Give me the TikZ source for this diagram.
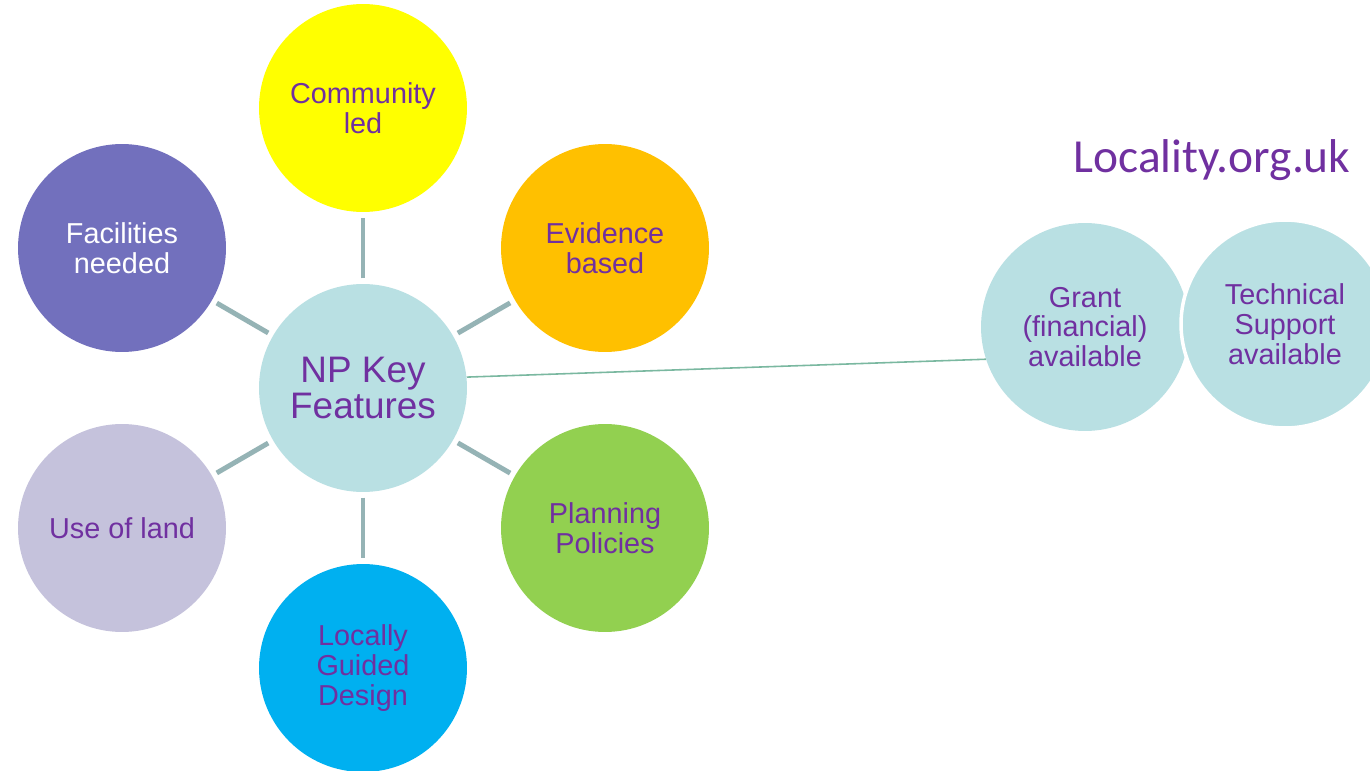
\documentclass[tikz,border=0pt]{standalone}
\usepackage{fontspec}
\setmainfont{Liberation Sans}
\newfontfamily\calib{Carlito}
\definecolor{txtpurple}{HTML}{7030A0}
\definecolor{lblue}{HTML}{B9E0E3}
\definecolor{cyellow}{HTML}{FFFF00}
\definecolor{corange}{HTML}{FFC000}
\definecolor{cgreen}{HTML}{92D050}
\definecolor{cblue}{HTML}{00B0F0}
\definecolor{clav}{HTML}{C5C2DC}
\definecolor{cviolet}{HTML}{7270BD}
\definecolor{spokecol}{HTML}{95B3B5}
\definecolor{linkcol}{HTML}{7AB8A0}
\begin{document}
\begin{tikzpicture}[x=0.02cm,y=-0.02cm,
  bubble/.style={circle,draw=none,minimum size=4.16cm,inner sep=0pt,align=center,
    text=txtpurple,font=\fontsize{16.4}{17}\selectfont},
  spoke/.style={draw=spokecol,line width=2.8pt,shorten <=3pt,shorten >=3pt},
  link/.style={draw=linkcol,line width=0.9pt}]
\useasboundingbox[fill=white] (0,0) rectangle (1370,771);
\node[bubble,fill=lblue,font=\fontsize{21}{21}\selectfont] (np) at (363,388) {NP Key\\Features};
\node[bubble,fill=cyellow] (comm) at (363,108) {Community\\led};
\node[bubble,fill=corange] (evid) at (605,248) {Evidence\\based};
\node[bubble,fill=cgreen] (plan) at (605,528) {Planning\\Policies};
\node[bubble,fill=cblue] (loc) at (363,668) {Locally\\Guided\\Design};
\node[bubble,fill=clav] (land) at (122,528) {Use of land};
\node[bubble,fill=cviolet,text=white] (fac) at (122,248) {Facilities\\needed};
\node[bubble,fill=lblue] (grant) at (1085,327) {Grant\\(financial)\\available};
\node[bubble,fill=lblue,draw=white,line width=2pt] (tech) at (1285,324) {Technical\\Support\\available};
\node[text=txtpurple,font=\calib\fontsize{27}{27}\selectfont] (site) at (1212,160) {Locality.org.uk};
\foreach \t in {comm,evid,plan,loc,land,fac}
  \draw[spoke] (np) -- (\t);
\draw[link] (np.6.6) -- (grant.198.8);
\end{tikzpicture}
\end{document}
